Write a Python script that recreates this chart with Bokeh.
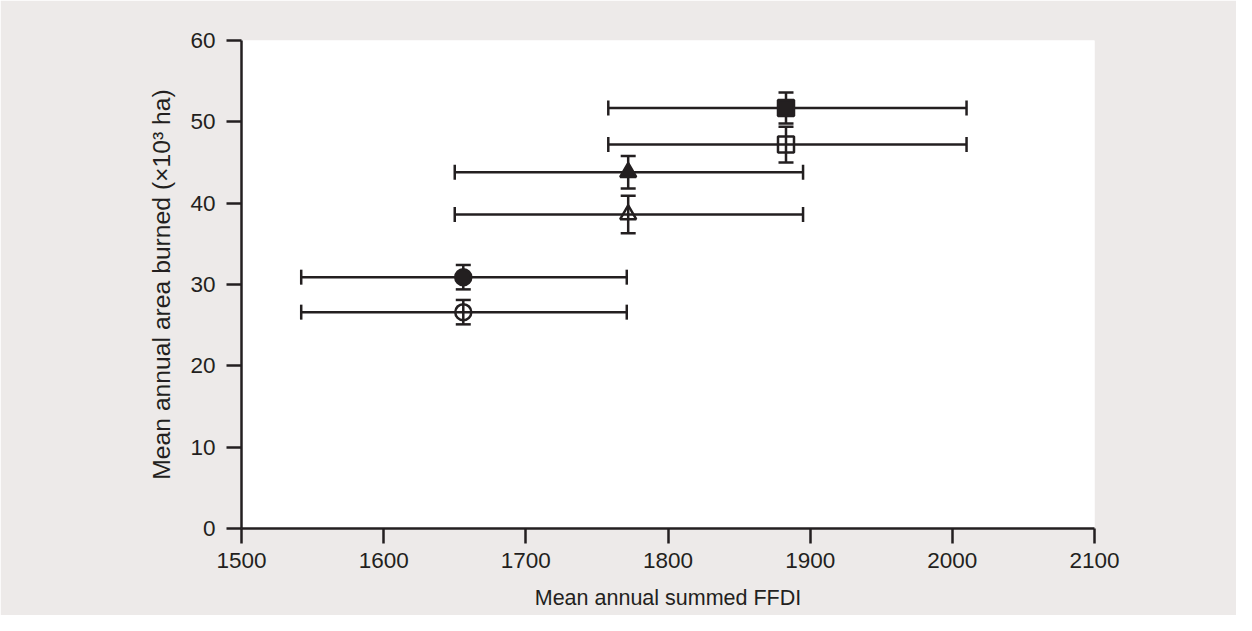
from bokeh.plotting import figure
from bokeh.models import ColumnDataSource, Whisker, TeeHead, FixedTicker, Range1d
from bokeh.embed import file_html
from bokeh.resources import INLINE

# Data
markers = ["square", "square", "triangle", "triangle", "circle", "circle"]
filled = [True, False, True, False, True, False]
x_mean = [1883, 1883, 1772, 1772, 1656, 1656]
y_mean = [51.7, 47.2, 43.8, 38.6, 30.9, 26.6]
y_err = [1.9, 2.2, 2.0, 2.3, 1.5, 1.5]
x_low = [1758, 1758, 1650, 1650, 1542, 1542]
x_high = [2010, 2010, 1895, 1895, 1771, 1771]

x_ticks = [1500, 1600, 1700, 1800, 1900, 2000, 2100]
y_ticks = [0, 10, 20, 30, 40, 50, 60]
x_title = "Mean annual summed FFDI"
y_title = "Mean annual area burned (×10³ ha)"

INK = "#231f20"
BG = "#edeae9"
FONT = "Liberation Sans"

p = figure(width=1236, height=615, output_backend="svg", toolbar_location=None,
           x_range=Range1d(1500, 2100), y_range=Range1d(0, 60),
           min_border_left=241, min_border_right=142, min_border_top=40,
           min_border_bottom=87)
p.border_fill_color = BG
p.background_fill_color = "white"
p.outline_line_color = None
p.grid.visible = False

src = ColumnDataSource(dict(
    x=x_mean, y=y_mean,
    ylo=[y - e for y, e in zip(y_mean, y_err)],
    yhi=[y + e for y, e in zip(y_mean, y_err)],
    xlo=x_low, xhi=x_high,
    marker=markers,
    fill=[INK if f else None for f in filled],
))

def tee():
    return TeeHead(size=15, line_width=2.5, line_color=INK)

hw = Whisker(source=src, base="y", lower="xlo", upper="xhi", dimension="width",
             line_width=2.5, line_color=INK, lower_head=tee(), upper_head=tee())
vw = Whisker(source=src, base="x", lower="ylo", upper="yhi", dimension="height",
             line_width=2.5, line_color=INK, lower_head=tee(), upper_head=tee())
p.add_layout(hw)
p.add_layout(vw)

p.scatter("x", "y", source=src, marker="marker", size=16, line_color=INK,
          line_width=2.5, fill_color="fill")

for ax in (p.xaxis[0], p.yaxis[0]):
    ax.axis_line_width = 2.5
    ax.axis_line_color = INK
    ax.major_tick_line_width = 2.5
    ax.major_tick_line_color = INK
    ax.major_tick_out = 15
    ax.major_tick_in = 0
    ax.minor_tick_line_color = None
    ax.major_label_text_font = FONT
    ax.major_label_text_font_size = "22.5px"
    ax.major_label_text_color = INK
    ax.axis_label_text_font = FONT
    ax.axis_label_text_font_style = "normal"
    ax.axis_label_text_color = INK

p.xaxis.ticker = FixedTicker(ticks=x_ticks)
p.yaxis.ticker = FixedTicker(ticks=y_ticks)
p.xaxis.axis_label = x_title
p.xaxis.axis_label_text_font_size = "21.5px"
p.xaxis.major_label_standoff = 9
p.xaxis.axis_label_standoff = 15

p.yaxis.axis_label = y_title
p.yaxis.axis_label_text_font_size = "24.7px"
p.yaxis.major_label_standoff = 11
p.yaxis.axis_label_standoff = 12

open("out.html", "w").write(file_html(p, INLINE))
